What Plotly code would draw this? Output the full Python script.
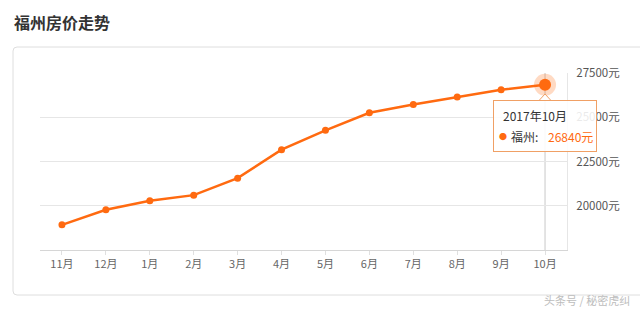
import plotly.graph_objects as go

months = ["11月", "12月", "1月", "2月", "3月", "4月", "5月", "6月", "7月", "8月", "9月", "10月"]
prices = [18920, 19770, 20280, 20600, 21560, 23170, 24260, 25250, 25720, 26150, 26550, 26840]
y_ticks = [20000, 22500, 25000, 27500]
y_ticktext = [f"{v}元" for v in y_ticks]
city = "福州"
title = "福州房价走势"
tooltip_date = "2017年10月"

W, H = 640, 311
L, R, T, B = 40, 73, 73, 61
pw, ph = W - L - R, H - T - B

def px(x):
    return (x - L) / pw

def py(y):
    return (H - B - y) / ph

ORANGE = "#ff6a10"
FONT = "Noto Sans CJK SC"

fig = go.Figure()

fig.add_trace(go.Scatter(
    x=months, y=prices, mode="lines+markers",
    line=dict(color=ORANGE, width=2.5),
    marker=dict(color=ORANGE, size=7),
    hoverinfo="skip", showlegend=False,
))
fig.add_trace(go.Scatter(
    x=[months[-1]], y=[prices[-1]], mode="markers",
    marker=dict(color="rgba(255,106,16,0.25)", size=22),
    hoverinfo="skip", showlegend=False,
))
fig.add_trace(go.Scatter(
    x=[months[-1]], y=[prices[-1]], mode="markers",
    marker=dict(color=ORANGE, size=12),
    hoverinfo="skip", showlegend=False,
))

# card (rounded)
x0, x1 = px(13), px(650)
y0, y1 = py(295), py(47)
rx, ry = 4 / pw, 4 / ph
path = (f"M {x0+rx},{y1} L {x1},{y1} L {x1},{y0} L {x0+rx},{y0} "
        f"Q {x0},{y0} {x0},{y0+ry} L {x0},{y1-ry} Q {x0},{y1} {x0+rx},{y1} Z")
fig.add_shape(type="path", xref="paper", yref="paper", path=path,
              line=dict(color="#dedede", width=1), fillcolor="white", layer="below")

# crosshair
fig.add_shape(type="line", xref="x", yref="paper", x0=months[-1], x1=months[-1], y0=0, y1=1,
              line=dict(color="#c8c8c8", width=1), layer="below")

# tooltip box
BORDER = "#f0a065"
fig.add_annotation(
    x=months[-1], y=prices[-1], xref="x", yref="y",
    xanchor="center", yanchor="top", yshift=-15, showarrow=False,
    text=" ", width=90, height=38,
    bgcolor="rgba(255,255,255,0.88)", bordercolor=BORDER, borderwidth=1, borderpad=6,
)
# caret (small notch on top of the tooltip)
cx = px(545)
fig.add_shape(
    type="path", xref="paper", yref="paper",
    path=f"M {px(539)},{py(100.5)} L {cx},{py(94)} L {px(551)},{py(100.5)}",
    line=dict(color=BORDER, width=1), fillcolor="white", layer="above",
)
# tooltip texts
fig.add_annotation(
    x=months[-1], y=prices[-1], xref="x", yref="y",
    xanchor="left", yanchor="middle", xshift=-44, yshift=-31, showarrow=False,
    text=tooltip_date, font=dict(family=FONT, size=12, color="#333"),
)
fig.add_annotation(
    x=months[-1], y=prices[-1], xref="x", yref="y",
    xanchor="center", yanchor="middle", xshift=-42, yshift=-52, showarrow=False,
    text="●", font=dict(family=FONT, size=8, color=ORANGE),
)
fig.add_annotation(
    x=months[-1], y=prices[-1], xref="x", yref="y",
    xanchor="left", yanchor="middle", xshift=-36, yshift=-52, showarrow=False,
    text=f"{city}:", font=dict(family=FONT, size=12, color="#333"),
)
fig.add_annotation(
    x=months[-1], y=prices[-1], xref="x", yref="y",
    xanchor="left", yanchor="middle", xshift=1, yshift=-52, showarrow=False,
    text=f"{prices[-1]}元", font=dict(family=FONT, size=12, color=ORANGE),
)

# title
fig.add_annotation(
    x=px(12), y=py(22), xref="paper", yref="paper", xanchor="left", yanchor="middle",
    showarrow=False, text=f"<b>{title}</b>",
    font=dict(family=FONT, size=16, color="#333"),
)
# watermark
fig.add_annotation(
    x=px(632), y=py(300), xref="paper", yref="paper", xanchor="right", yanchor="middle",
    showarrow=False, text="头条号 / 秘密虎纠",
    font=dict(family=FONT, size=11, color="#bdbdbd"),
)

fig.update_layout(
    width=W, height=H, margin=dict(l=L, r=R, t=T, b=B),
    paper_bgcolor="white", plot_bgcolor="white",
    font=dict(family=FONT, size=11, color="#666"),
    xaxis=dict(
        type="category", range=[-0.5, len(months) - 0.5],
        showgrid=False, showline=True, linecolor="#d6d6d6", linewidth=1,
        ticks="outside", ticklen=4, tickcolor="#e0e0e0",
        tickfont=dict(family=FONT, size=11, color="#666"), zeroline=False,
    ),
    yaxis=dict(
        side="right", range=[17500, 27500],
        tickvals=y_ticks, ticktext=y_ticktext,
        showgrid=True, gridcolor="#e6e6e6", gridwidth=1,
        showline=True, linecolor="#e6e6e6", linewidth=1,
        ticks="outside", ticklen=6, tickcolor="rgba(0,0,0,0)",
        tickfont=dict(family=FONT, size=11.5, color="#555"), zeroline=False,
    ),
)

fig.write_html("out.html")
